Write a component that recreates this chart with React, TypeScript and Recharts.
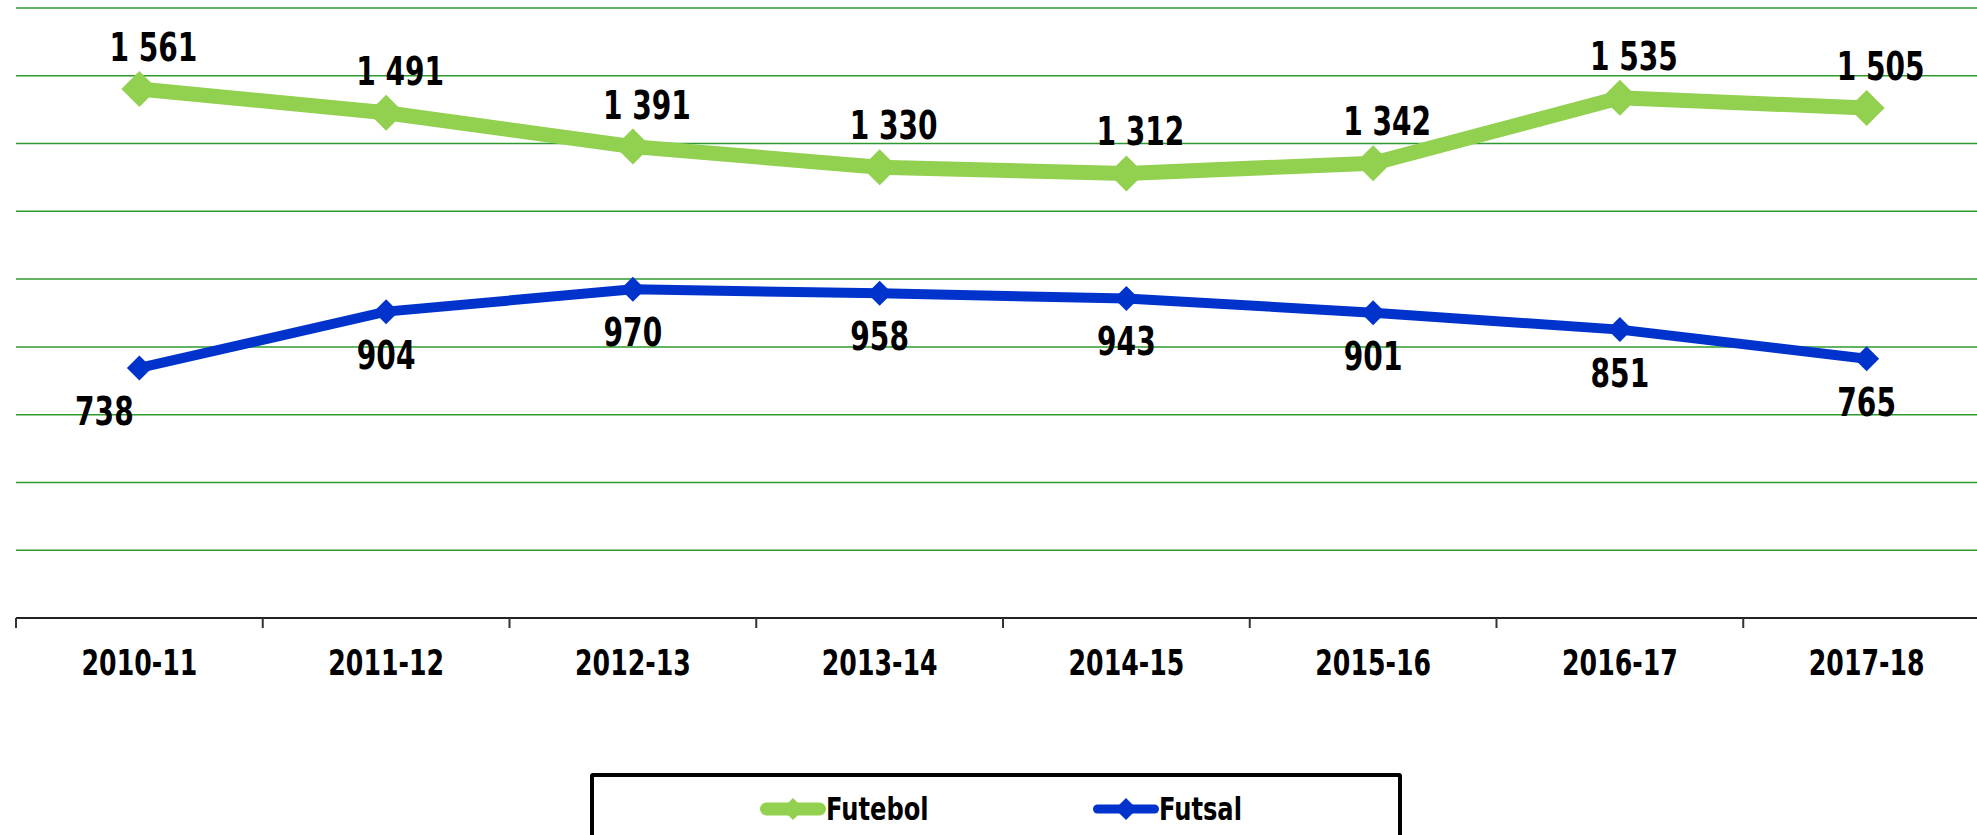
import React from "react";
import { CartesianGrid, LabelList, Line, LineChart, XAxis, YAxis } from "recharts";

const SEASONS = ["2010-11", "2011-12", "2012-13", "2013-14", "2014-15", "2015-16", "2016-17", "2017-18"];
const FUTEBOL = [1561, 1491, 1391, 1330, 1312, 1342, 1535, 1505];
const FUTSAL = [738, 904, 970, 958, 943, 901, 851, 765];
const Y_TICKS = [0, 200, 400, 600, 800, 1000, 1200, 1400, 1600, 1800];

const GREEN = "#92d050";
const BLUE = "#0033cc";
const GRID = "#2e9a2e";
const FONT = "'Liberation Sans Narrow', 'DejaVu Sans Condensed', 'Liberation Sans', sans-serif";

const data = SEASONS.map((season, i) => ({
  season,
  futebol: FUTEBOL[i],
  futsal: FUTSAL[i],
}));

// "1561" -> "1 561"
const fmt = (v: number) => String(v).replace(/\B(?=(\d{3})+(?!\d))/g, " ");

// the original face is a narrow condensed one, so squeeze the text horizontally
function NarrowText({
  x,
  y,
  size,
  squeeze,
  children,
}: {
  x: number;
  y: number;
  size: number;
  squeeze: number;
  children: React.ReactNode;
}) {
  return (
    <text
      transform={`translate(${x},${y}) scale(${squeeze},1)`}
      textAnchor="middle"
      fontFamily={FONT}
      fontWeight="bold"
      fontSize={size}
      fill="#000"
    >
      {children}
    </text>
  );
}

function diamond(r: number, fill: string) {
  return (props: any) => {
    const { cx, cy, index } = props;
    if (cx == null || cy == null) return <g key={index} />;
    return (
      <polygon
        key={index}
        points={`${cx},${cy - r} ${cx + r},${cy} ${cx},${cy + r} ${cx - r},${cy}`}
        fill={fill}
      />
    );
  };
}

function FutebolLabel(props: any) {
  const { x, y, value } = props;
  return (
    <NarrowText x={x + 14} y={y - 28} size={39} squeeze={0.8}>
      {fmt(value)}
    </NarrowText>
  );
}

function FutsalLabel(props: any) {
  const { x, y, value, index } = props;
  const dx = index === 0 ? -35 : 0;
  return (
    <NarrowText x={x + dx} y={y + 57} size={39} squeeze={0.8}>
      {fmt(value)}
    </NarrowText>
  );
}

function SeasonTick(props: any) {
  const { x, y, payload, index } = props;
  const half = payload?.offset ?? 123;
  const last = index === SEASONS.length - 1;
  return (
    <g>
      <line x1={x - half} x2={x - half} y1={y} y2={y + 10} stroke="#333" strokeWidth={2} />
      {last && <line x1={x + half} x2={x + half} y1={y} y2={y + 10} stroke="#333" strokeWidth={2} />}
      <NarrowText x={x} y={y + 57} size={35} squeeze={0.8}>
        {payload.value}
      </NarrowText>
    </g>
  );
}

function LegendIcon({ color, r, w }: { color: string; r: number; w: number }) {
  return (
    <svg width={66} height={30} style={{ display: "block" }}>
      <line x1={w / 2} x2={66 - w / 2} y1={15} y2={15} stroke={color} strokeWidth={w} strokeLinecap="round" />
      <polygon points={`33,${15 - r} ${33 + r},15 33,${15 + r} ${33 - r},15`} fill={color} />
    </svg>
  );
}

const legendText: React.CSSProperties = {
  display: "inline-block",
  transform: "scaleX(0.84)",
  transformOrigin: "left center",
};

export default function App() {
  return (
    <div
      style={{
        position: "fixed",
        left: 0,
        top: 0,
        width: 1977,
        height: 835,
        overflow: "hidden",
        background: "#fff",
      }}
    >
      <LineChart width={1990} height={835} data={data} margin={{ top: 8, right: 0, left: 16, bottom: 0 }}>
        <CartesianGrid vertical={false} stroke={GRID} strokeWidth={1.5} />
        <YAxis hide domain={[0, 1800]} ticks={Y_TICKS} />
        <XAxis
          dataKey="season"
          scale="band"
          height={217}
          axisLine={{ stroke: "#222", strokeWidth: 2 }}
          tickLine={false}
          tickSize={0}
          tickMargin={0}
          interval={0}
          tick={<SeasonTick />}
        />
        <Line
          dataKey="futebol"
          stroke={GREEN}
          strokeWidth={15}
          dot={diamond(18, GREEN)}
          activeDot={false}
          isAnimationActive={false}
        >
          <LabelList dataKey="futebol" content={<FutebolLabel />} />
        </Line>
        <Line
          dataKey="futsal"
          stroke={BLUE}
          strokeWidth={10}
          dot={diamond(12.5, BLUE)}
          activeDot={false}
          isAnimationActive={false}
        >
          <LabelList dataKey="futsal" content={<FutsalLabel />} />
        </Line>
      </LineChart>

      <div
        style={{
          position: "absolute",
          left: 590,
          top: 773,
          width: 812,
          height: 80,
          border: "4px solid #000",
          borderRadius: 3,
          boxSizing: "border-box",
          fontFamily: FONT,
          fontWeight: "bold",
          fontSize: 32,
          color: "#000",
        }}
      >
        <div style={{ position: "absolute", left: 166, top: 13, display: "flex", alignItems: "center" }}>
          <LegendIcon color={GREEN} r={11} w={13} />
          <span style={legendText}>Futebol</span>
        </div>
        <div style={{ position: "absolute", left: 499, top: 13, display: "flex", alignItems: "center" }}>
          <LegendIcon color={BLUE} r={11} w={9} />
          <span style={legendText}>Futsal</span>
        </div>
      </div>
    </div>
  );
}
